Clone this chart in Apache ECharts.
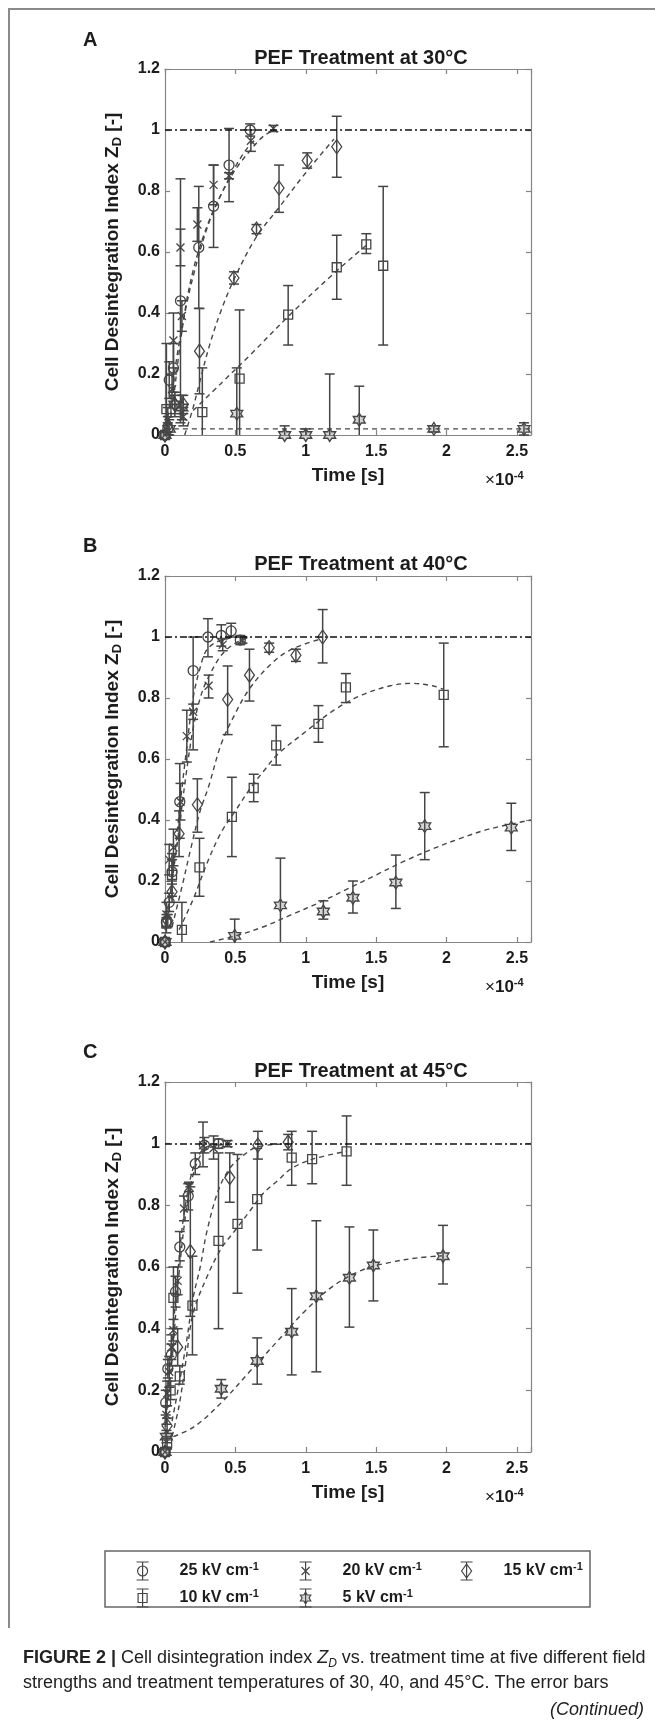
<!DOCTYPE html>
<html><head><meta charset="utf-8">
<script src="https://cdn.jsdelivr.net/npm/echarts@6/dist/echarts.min.js"></script>
<style>html,body{margin:0;padding:0;background:#fff}#c{width:655px;height:1725px}</style>
</head><body><div id="c"></div>
<script>
// ---------------- DATA (time in units of 1e-4 s) ----------------
// rows: [time, Z_D, lower error end, upper error end]
const SERIES_NAMES = ['25 kV cm^-1', '20 kV cm^-1', '15 kV cm^-1', '10 kV cm^-1', '5 kV cm^-1'];
const PANEL_TITLES = ['PEF Treatment at 30°C', 'PEF Treatment at 40°C', 'PEF Treatment at 45°C'];
const PANEL_LETTERS = ['A', 'B', 'C'];
const X_TICKS = [0, 0.5, 1, 1.5, 2, 2.5];
const Y_TICKS = [0, 0.2, 0.4, 0.6, 0.8, 1, 1.2];
const X_MAX = 2.6;
const REF_LEVEL = 1;

// ---- Panel A: 30 °C ----
const A25 = [[0,0,0,0],[0.02,0.02,0.00,0.04],[0.03,0.18,0.12,0.24],[0.06,0.22,0.14,0.30],[0.11,0.44,0.04,0.84],[0.24,0.615,0.415,0.815],[0.345,0.75,0.615,0.885],[0.455,0.885,0.765,1.005],[0.605,1.00,0.98,1.02]];
const A20 = [[0,0,0,0],[0.02,0.05,0.01,0.09],[0.05,0.15,0.10,0.20],[0.06,0.31,0.22,0.40],[0.13,0.06,0.03,0.09],[0.12,0.39,0.34,0.44],[0.11,0.615,0.555,0.675],[0.23,0.69,0.635,0.745],[0.345,0.82,0.755,0.885],[0.455,0.85,0.84,0.86],[0.61,0.965,0.93,1.0],[0.77,1.005,0.995,1.015]];
const A15 = [[0,0,0,0],[0.02,0.03,0.0,0.06],[0.07,0.10,0.06,0.14],[0.13,0.10,0.07,0.13],[0.245,0.275,0.135,0.415],[0.49,0.515,0.495,0.535],[0.65,0.675,0.66,0.69],[0.81,0.81,0.73,0.885],[1.01,0.90,0.875,0.925],[1.22,0.945,0.845,1.045]];
const A10 = [[0,0,0,0],[0.01,0.085,-0.12,0.30],[0.265,0.075,-0.07,0.22],[0.53,0.185,-0.04,0.41],[0.875,0.395,0.295,0.49],[1.22,0.55,0.445,0.655],[1.43,0.625,0.595,0.66],[1.55,0.555,0.295,0.815]];
const A5 = [[0,0,0,0],[0.03,0.02,0.0,0.05],[0.07,0.10,0.07,0.13],[0.12,0.09,0.05,0.13],[0.51,0.07,-0.08,0.22],[0.85,0.0,-0.03,0.03],[1.0,0.0,-0.02,0.02],[1.17,0.0,-0.2,0.2],[1.38,0.05,-0.06,0.16],[1.91,0.02,0.01,0.03],[2.55,0.02,0.0,0.04]];
const A25fit = [[0.02,0.0],[0.06,0.12],[0.1,0.27],[0.15,0.43],[0.2,0.54],[0.25,0.62],[0.32,0.71],[0.4,0.79],[0.5,0.88],[0.6,0.95],[0.65,0.97]];
const A20fit = [[0,0],[0.05,0.15],[0.1,0.3],[0.15,0.42],[0.2,0.52],[0.3,0.68],[0.4,0.79],[0.5,0.87],[0.6,0.93],[0.7,0.98],[0.78,1.0]];
const A15fit = [[0.14,0.0],[0.2,0.09],[0.25,0.18],[0.32,0.3],[0.4,0.41],[0.5,0.52],[0.65,0.65],[0.8,0.74],[1.0,0.86],[1.2,0.97]];
const A10fit = [[0.2,0.08],[0.4,0.17],[0.6,0.26],[0.9,0.4],[1.2,0.53],[1.45,0.63]];
const A5fit = [[0,0.02],[2.6,0.02]];

// ---- Panel B: 40 °C ----
const B25 = [[0,0,0,0],[0.01,0.065,0.05,0.08],[0.03,0.13,0.10,0.16],[0.05,0.23,0.19,0.27],[0.105,0.46,0.34,0.585],[0.2,0.89,0.63,1.0],[0.305,1.0,0.935,1.06],[0.4,1.005,0.97,1.04],[0.47,1.02,1.0,1.045],[0.535,0.99,0.975,1.005]];
const B20 = [[0,0,0,0],[0.01,0.09,0.05,0.13],[0.03,0.27,0.22,0.32],[0.06,0.31,0.25,0.37],[0.11,0.46,0.40,0.52],[0.155,0.675,0.59,0.76],[0.2,0.755,0.73,0.78],[0.31,0.84,0.80,0.875],[0.41,0.975,0.955,0.995],[0.55,0.99,0.98,1.0]];
const B15 = [[0,0,0,0],[0.02,0.07,0.05,0.09],[0.05,0.165,0.13,0.20],[0.1,0.355,0.28,0.43],[0.23,0.45,0.36,0.535],[0.445,0.795,0.68,0.905],[0.6,0.875,0.79,0.96],[0.74,0.965,0.95,0.98],[0.93,0.94,0.92,0.96],[1.12,1.0,0.915,1.09]];
const B10 = [[0,0,0,0],[0.01,0.06,0.03,0.09],[0.05,0.22,0.15,0.29],[0.12,0.04,-0.05,0.13],[0.245,0.245,0.15,0.34],[0.475,0.41,0.28,0.54],[0.63,0.505,0.46,0.55],[0.79,0.645,0.58,0.71],[1.09,0.715,0.655,0.775],[1.285,0.835,0.785,0.88],[1.98,0.81,0.64,0.98]];
const B5 = [[0,0,0,0],[0.495,0.02,-0.03,0.075],[0.82,0.12,-0.035,0.275],[1.125,0.10,0.075,0.135],[1.335,0.145,0.095,0.20],[1.64,0.195,0.11,0.285],[1.845,0.38,0.27,0.49],[2.46,0.375,0.30,0.455]];
const B25fit = [[0,0.04],[0.05,0.2],[0.1,0.42],[0.15,0.62],[0.2,0.8],[0.25,0.9],[0.3,0.96],[0.4,0.99],[0.55,1.0]];
const B20fit = [[0,0.05],[0.05,0.2],[0.1,0.37],[0.15,0.55],[0.2,0.7],[0.25,0.8],[0.3,0.86],[0.4,0.94],[0.5,0.98],[0.6,1.0]];
const B15fit = [[0.05,0.05],[0.12,0.18],[0.18,0.3],[0.25,0.43],[0.31,0.51],[0.4,0.65],[0.5,0.75],[0.6,0.83],[0.75,0.91],[0.9,0.96],[1.12,0.995]];
const B10fit = [[0.1,0.04],[0.2,0.14],[0.3,0.26],[0.4,0.36],[0.5,0.43],[0.6,0.5],[0.7,0.56],[0.8,0.615],[1.0,0.69],[1.2,0.76],[1.4,0.81],[1.6,0.84],[1.75,0.848],[1.9,0.84],[1.98,0.828]];
const B5fit = [[0.32,0],[0.5,0.02],[0.7,0.05],[0.9,0.09],[1.1,0.13],[1.3,0.175],[1.5,0.22],[1.7,0.265],[1.9,0.305],[2.1,0.34],[2.3,0.37],[2.6,0.4]];

// ---- Panel C: 45 °C ----
const C25 = [[0,0,0,0],[0.005,0.16,0.12,0.20],[0.02,0.27,0.24,0.30],[0.045,0.315,0.28,0.35],[0.075,0.52,0.47,0.57],[0.105,0.665,0.62,0.715],[0.165,0.83,0.785,0.87],[0.215,0.935,0.90,0.97],[0.28,0.995,0.97,1.02],[0.38,1.0,0.985,1.015]];
const C20 = [[0,0,0,0],[0.01,0.12,0.09,0.15],[0.015,0.19,0.15,0.23],[0.03,0.26,0.21,0.31],[0.045,0.34,0.30,0.38],[0.06,0.395,0.36,0.43],[0.09,0.555,0.51,0.60],[0.135,0.79,0.75,0.83],[0.17,0.86,0.845,0.875],[0.27,0.995,0.925,1.07],[0.345,0.985,0.95,1.025],[0.445,1.0,0.99,1.01]];
const C15 = [[0,0,0,0],[0.015,0.085,0.06,0.11],[0.09,0.34,0.28,0.40],[0.18,0.65,0.44,0.86],[0.46,0.89,0.81,0.97],[0.66,0.995,0.95,1.04],[0.875,1.005,0.98,1.03]];
const C10 = [[0,0,0,0],[0.015,0.03,0.01,0.05],[0.04,0.20,0.17,0.23],[0.06,0.50,0.40,0.60],[0.105,0.245,0.22,0.28],[0.195,0.475,0.315,0.635],[0.38,0.685,0.40,0.97],[0.515,0.74,0.515,0.965],[0.655,0.82,0.655,0.985],[0.9,0.955,0.865,1.04],[1.045,0.95,0.87,1.04],[1.29,0.975,0.865,1.09]];
const C5 = [[0,0,0,0],[0.01,0.05,0.03,0.07],[0.4,0.205,0.175,0.235],[0.655,0.295,0.22,0.37],[0.9,0.39,0.25,0.53],[1.075,0.505,0.26,0.75],[1.31,0.565,0.405,0.73],[1.48,0.605,0.49,0.72],[1.975,0.635,0.545,0.735]];
const C25fit = [[0,0.1],[0.04,0.3],[0.08,0.52],[0.12,0.72],[0.16,0.84],[0.2,0.92],[0.25,0.97],[0.3,0.99],[0.4,1.0]];
const C20fit = [[0,0.08],[0.05,0.3],[0.1,0.58],[0.15,0.78],[0.2,0.9],[0.25,0.96],[0.3,0.985],[0.45,1.0]];
const C15fit = [[0.05,0.1],[0.1,0.22],[0.15,0.35],[0.2,0.5],[0.25,0.6],[0.3,0.72],[0.38,0.85],[0.46,0.92],[0.55,0.96],[0.66,0.99],[0.88,1.0]];
const C10fit = [[0.05,0.05],[0.1,0.15],[0.15,0.3],[0.2,0.45],[0.3,0.57],[0.4,0.66],[0.5,0.72],[0.6,0.78],[0.7,0.84],[0.8,0.88],[0.9,0.92],[1.05,0.95],[1.29,0.975]];
const C5fit = [[0,0.04],[0.2,0.08],[0.4,0.16],[0.6,0.26],[0.8,0.36],[1.0,0.46],[1.2,0.54],[1.4,0.59],[1.6,0.615],[1.8,0.63],[1.97,0.636]];

// ---------------- STYLE / LAYOUT ----------------
const FONT = '"Liberation Sans", Arial, Helvetica, sans-serif';
const TXT = '#1c1c1c';
const MARK = '#454545';
const AXC = '#858585';
const GRID_LEFT = 165, GRID_W = 366;
const GRID_TOPS = [69, 576, 1082];
const GRID_HS = [366, 366, 370];
const TITLE_Y = [58, 564, 1071];
const LETTER_Y = [40, 546, 1052];
const CAP = 5;

const PANELS = [
  {sets: [A25, A20, A15, A10, A5], fits: [A25fit, A20fit, A15fit, A10fit, A5fit]},
  {sets: [B25, B20, B15, B10, B5], fits: [B25fit, B20fit, B15fit, B10fit, B5fit]},
  {sets: [C25, C20, C15, C10, C5], fits: [C25fit, C20fit, C15fit, C10fit, C5fit]}
];

const X_PATH = 'path://M0,0L10,10M10,0L0,10';
const STAR_PATH = 'path://M0,-10L2.89,-5L8.66,-5L5.77,0L8.66,5L2.89,5L0,10L-2.89,5L-8.66,5L-5.77,0L-8.66,-5L-2.89,-5Z';
const SYMBOLS = ['circle', X_PATH, 'diamond', 'rect', STAR_PATH];
const SYM_SIZES = [10, 8, [10, 14], 9, [12, 13]];
const SYM_FILL = ['rgba(0,0,0,0)', 'rgba(0,0,0,0)', 'rgba(0,0,0,0)', 'rgba(0,0,0,0)', 'rgba(90,90,90,0.25)'];

const BAR = 'M-6,-9L6,-9M0,-9L0,9M-6,9L6,9';
const LEG_ICONS = [
  'path://' + BAR + 'M-5,0C-5,-2.76,-2.76,-5,0,-5C2.76,-5,5,-2.76,5,0C5,2.76,2.76,5,0,5C-2.76,5,-5,2.76,-5,0Z',
  'path://' + BAR + 'M-4,-4L4,4M4,-4L-4,4',
  'path://' + BAR + 'M0,-7L5,0L0,7L-5,0Z',
  'path://' + BAR + 'M-4.5,-4.5L4.5,-4.5L4.5,4.5L-4.5,4.5Z',
  'path://' + BAR + 'M0,-6L1.73,-3L5.2,-3L3.46,0L5.2,3L1.73,3L0,6L-1.73,3L-5.2,3L-3.46,0L-5.2,-3L-1.73,-3Z'
];
const LEG_POS = [[131, 1556], [294, 1556], [455, 1556], [131, 1583], [294, 1583]];

function renderErr(params, api) {
  const x = api.value(0), lo = api.value(1), hi = api.value(2);
  if (Math.abs(hi - lo) < 1e-9) return null;
  const cs = params.coordSys;
  const top = cs.y, bottom = cs.y + cs.height;
  const pHi = api.coord([x, hi]), pLo = api.coord([x, lo]);
  const st = {stroke: MARK, lineWidth: 1.5};
  const ch = [];
  ch.push({type: 'line', shape: {x1: pHi[0], y1: Math.max(pHi[1], top), x2: pHi[0], y2: Math.min(pLo[1], bottom)}, style: st});
  if (pHi[1] >= top) ch.push({type: 'line', shape: {x1: pHi[0] - CAP, y1: pHi[1], x2: pHi[0] + CAP, y2: pHi[1]}, style: st});
  if (pLo[1] <= bottom) ch.push({type: 'line', shape: {x1: pLo[0] - CAP, y1: pLo[1], x2: pLo[0] + CAP, y2: pLo[1]}, style: st});
  return {type: 'group', children: ch};
}

const tickLabel = {color: TXT, fontSize: 16, fontWeight: 'bold', fontFamily: FONT};
const grid = [], xAxis = [], yAxis = [], series = [], graphic = [];

GRID_TOPS.forEach((t, i) => {
  const h = GRID_HS[i];
  grid.push({left: GRID_LEFT, top: t, width: GRID_W, height: h, containLabel: false});
  const axLine = {show: true, onZero: false, lineStyle: {color: AXC, width: 1.2}};
  const axTick = {show: true, inside: true, length: 5, lineStyle: {color: AXC, width: 1.2}};
  xAxis.push({
    type: 'value', gridIndex: i, position: 'bottom', min: X_TICKS[0], max: X_MAX,
    interval: X_TICKS[1] - X_TICKS[0],
    axisLine: axLine, axisTick: axTick, splitLine: {show: false},
    axisLabel: Object.assign({margin: 9, formatter: v => (X_TICKS.some(t => Math.abs(t - v) < 1e-9) ? String(v) : '')}, tickLabel),
    name: 'Time [s]', nameLocation: 'middle', nameGap: 31,
    nameTextStyle: {color: TXT, fontSize: 19, fontWeight: 'bold', fontFamily: FONT}
  });
  xAxis.push({
    type: 'value', gridIndex: i, position: 'top', min: X_TICKS[0], max: X_MAX,
    interval: X_TICKS[1] - X_TICKS[0],
    axisLine: axLine, axisTick: axTick, splitLine: {show: false}, axisLabel: {show: false}
  });
  yAxis.push({
    type: 'value', gridIndex: i, position: 'left', min: Y_TICKS[0], max: Y_TICKS[Y_TICKS.length - 1],
    interval: Y_TICKS[1] - Y_TICKS[0],
    axisLine: axLine, axisTick: axTick, splitLine: {show: false},
    axisLabel: Object.assign({margin: 5}, tickLabel),
    name: '{n|Cell Desintegration Index Z}{s|D}{n| [-]}', nameLocation: 'middle', nameGap: 41,
    nameTextStyle: {
      color: TXT, fontSize: 19, fontWeight: 'bold', fontFamily: FONT,
      rich: {
        n: {color: TXT, fontSize: 19, fontWeight: 'bold', fontFamily: FONT, lineHeight: 23},
        s: {color: TXT, fontSize: 13, fontWeight: 'bold', fontFamily: FONT, lineHeight: 23, verticalAlign: 'bottom'}
      }
    }
  });
  yAxis.push({
    type: 'value', gridIndex: i, position: 'right', min: Y_TICKS[0], max: Y_TICKS[Y_TICKS.length - 1],
    interval: Y_TICKS[1] - Y_TICKS[0],
    axisLine: axLine, axisTick: axTick, splitLine: {show: false}, axisLabel: {show: false}
  });

  const P = PANELS[i];
  series.push({
    type: 'line', name: 'ref' + i, xAxisIndex: 2 * i, yAxisIndex: 2 * i, data: [], silent: true,
    markLine: {silent: true, symbol: 'none', label: {show: false},
      lineStyle: {color: '#111', width: 1.6, type: [7, 3, 2, 3]},
      data: [{yAxis: REF_LEVEL}]}
  });
  P.fits.forEach((f, k) => {
    series.push({
      type: 'line', name: 'fit' + i + '_' + k, xAxisIndex: 2 * i, yAxisIndex: 2 * i, data: f,
      smooth: 0.35, showSymbol: false, silent: true, z: 1,
      lineStyle: {color: '#474747', width: 1.4, type: [5, 4]}
    });
  });
  P.sets.forEach((s, k) => {
    series.push({
      type: 'custom', name: 'err' + i + '_' + k, xAxisIndex: 2 * i, yAxisIndex: 2 * i,
      data: s.map(d => [d[0], d[2], d[3]]), renderItem: renderErr, encode: {x: 0, y: [1, 2]},
      silent: true, z: 2
    });
    series.push({
      type: 'scatter', name: SERIES_NAMES[k], xAxisIndex: 2 * i, yAxisIndex: 2 * i,
      data: s.map(d => [d[0], d[1]]), symbol: SYMBOLS[k], symbolSize: SYM_SIZES[k],
      itemStyle: {color: SYM_FILL[k], borderColor: MARK, borderWidth: 1.3, opacity: 1},
      z: 3
    });
  });

  graphic.push({type: 'text', x: 83, y: LETTER_Y[i], style: {text: PANEL_LETTERS[i], fill: TXT,
    font: 'bold 20px ' + FONT, verticalAlign: 'middle', align: 'left', textVerticalAlign: 'middle'}});
  graphic.push({type: 'text', x: 361, y: TITLE_Y[i], style: {text: PANEL_TITLES[i], fill: TXT,
    font: 'bold 20px ' + FONT, align: 'center', verticalAlign: 'middle', textAlign: 'center', textVerticalAlign: 'middle'}});
  graphic.push({type: 'text', x: 485, y: t + h + 45, style: {
    text: '{x|×}{a|10}{b|-4}', fill: TXT, align: 'left', verticalAlign: 'middle', textVerticalAlign: 'middle',
    rich: {x: {fontSize: 17, fontFamily: FONT, fill: TXT, lineHeight: 20},
           a: {fontSize: 17, fontWeight: 'bold', fontFamily: FONT, fill: TXT, lineHeight: 20},
           b: {fontSize: 11, fontWeight: 'bold', fontFamily: FONT, fill: TXT, lineHeight: 20, verticalAlign: 'top'}}}});
});

// page frame
graphic.push({type: 'line', shape: {x1: 9, y1: 8, x2: 9, y2: 1628}, style: {stroke: '#8a8a8a', lineWidth: 2}});
graphic.push({type: 'line', shape: {x1: 8, y1: 9, x2: 655, y2: 9}, style: {stroke: '#8a8a8a', lineWidth: 2}});
// legend frame
graphic.push({type: 'rect', shape: {x: 105, y: 1551, width: 485, height: 56}, style: {fill: 'none', stroke: '#666', lineWidth: 1.5}});
// caption
const capRich = {
  b: {fontSize: 18, fontWeight: 'bold', fontFamily: FONT, fill: '#222'},
  i: {fontSize: 18, fontStyle: 'italic', fontFamily: FONT, fill: '#222'},
  d: {fontSize: 12, fontStyle: 'italic', fontFamily: FONT, fill: '#222', verticalAlign: 'bottom', lineHeight: 23}
};
graphic.push({type: 'text', x: 23, y: 1658, style: {
  text: '{b|FIGURE 2 |} Cell disintegration index {i|Z}{d|D} vs. treatment time at five different field',
  font: '18px ' + FONT, fill: '#222', verticalAlign: 'middle', textVerticalAlign: 'middle', rich: capRich}});
graphic.push({type: 'text', x: 23, y: 1683, style: {
  text: 'strengths and treatment temperatures of 30, 40, and 45°C. The error bars',
  font: '18px ' + FONT, fill: '#222', verticalAlign: 'middle', textVerticalAlign: 'middle'}});
graphic.push({type: 'text', x: 644, y: 1710, style: {
  text: '(Continued)', font: 'italic 18px ' + FONT, fill: '#222', align: 'right', textAlign: 'right',
  verticalAlign: 'middle', textVerticalAlign: 'middle'}});

const legend = SERIES_NAMES.map((n, k) => ({
  data: [{name: n, icon: LEG_ICONS[k]}],
  left: LEG_POS[k][0], top: LEG_POS[k][1], itemWidth: 64, itemHeight: 18, selectedMode: false,
  itemStyle: {color: SYM_FILL[k], borderColor: MARK, borderWidth: 1.2},
  formatter: name => { const p = name.split('^'); return '{t|' + p[0] + '}{s|' + p[1] + '}'; },
  textStyle: {color: TXT, fontSize: 16, fontWeight: 'bold', fontFamily: FONT,
    rich: {t: {color: TXT, fontSize: 16, fontWeight: 'bold', fontFamily: FONT, lineHeight: 20},
           s: {color: TXT, fontSize: 11, fontWeight: 'bold', fontFamily: FONT, lineHeight: 20, verticalAlign: 'top'}}}
}));

const chart = echarts.init(document.getElementById('c'), null, {renderer: 'canvas'});
chart.setOption({
  backgroundColor: '#fff', animation: false,
  grid, xAxis, yAxis, series, graphic, legend
});
</script></body></html>
